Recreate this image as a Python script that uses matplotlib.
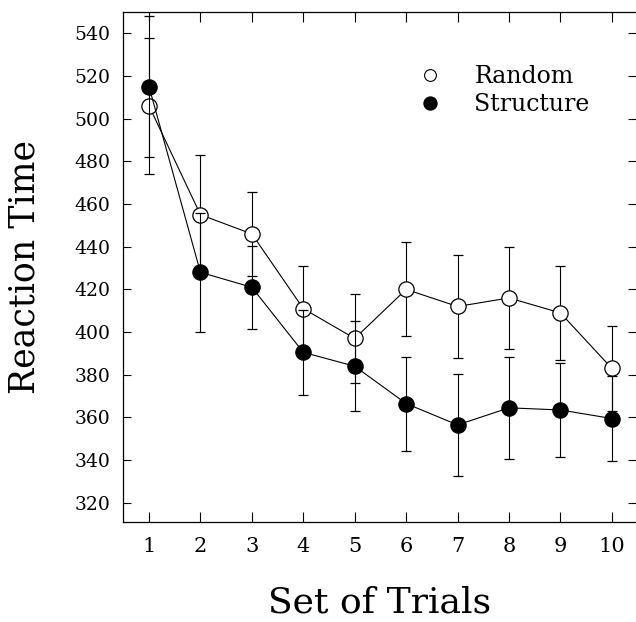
import matplotlib
matplotlib.use("Agg")
import matplotlib.pyplot as plt
from matplotlib.lines import Line2D

trials = [1, 2, 3, 4, 5, 6, 7, 8, 9, 10]
random_mean = [506, 455, 446, 411, 397, 420, 412, 416, 409, 383]
random_err = [32, 28, 19.5, 20, 21, 22, 24, 24, 22, 20]
structure_mean = [515, 428, 421, 390.5, 384, 366.5, 356.5, 364.5, 363.5, 359.5]
structure_err = [33, 28, 19.5, 20, 21, 22, 24, 24, 22, 20]
yticks = [320, 340, 360, 380, 400, 420, 440, 460, 480, 500, 520, 540]
series_labels = ['Random', 'Structure']

plt.rcParams['font.family'] = ['DejaVu Serif']

fig = plt.figure(figsize=(6.36, 6.22), dpi=100)
ax = fig.add_axes([123 / 636, 1 - 522 / 622, (636 - 123) / 636, (522 - 12) / 622])

ax.errorbar(trials, random_mean, yerr=random_err, fmt='-o', color='black',
            mfc='white', mec='black', ms=11, lw=0.8, elinewidth=0.8,
            capsize=3.5, capthick=0.8, mew=0.9, zorder=2)
ax.errorbar(trials, structure_mean, yerr=structure_err, fmt='-o', color='black',
            mfc='black', mec='black', ms=11, lw=0.8, elinewidth=0.8,
            capsize=3.5, capthick=0.8, mew=0.9, zorder=3)

ax.set_xlim(0.494, 10.47)
ax.set_ylim(311, 550)
ax.set_xticks(trials)
ax.set_yticks(yticks)
ax.tick_params(axis='x', direction='in', length=7, width=0.8, top=True,
               labelsize=15, pad=11)
ax.tick_params(axis='y', direction='in', length=6, width=0.8, right=True,
               labelsize=13.5, pad=9)
for s in ax.spines.values():
    s.set_linewidth(0.9)
ax.spines['right'].set_visible(False)

ax.set_xlabel('Set of Trials', fontsize=26)
ax.set_ylabel('Reaction Time', fontsize=25)
ax.xaxis.set_label_coords(0.5, -0.125)
ax.yaxis.set_label_coords(-0.158, 0.5)

handles = [
    Line2D([], [], ls='none', marker='o', ms=8.5, mfc='white', mec='black', mew=0.8),
    Line2D([], [], ls='none', marker='o', ms=9.5, mfc='black', mec='black', mew=0.8),
]
ax.legend(handles, series_labels, loc='center left', bbox_to_anchor=(0.577, 0.846),
          frameon=False, fontsize=17, handlelength=0.97, borderpad=0,
          borderaxespad=0, handletextpad=1.38, labelspacing=0.2)

fig.savefig('out.png', dpi=100)
